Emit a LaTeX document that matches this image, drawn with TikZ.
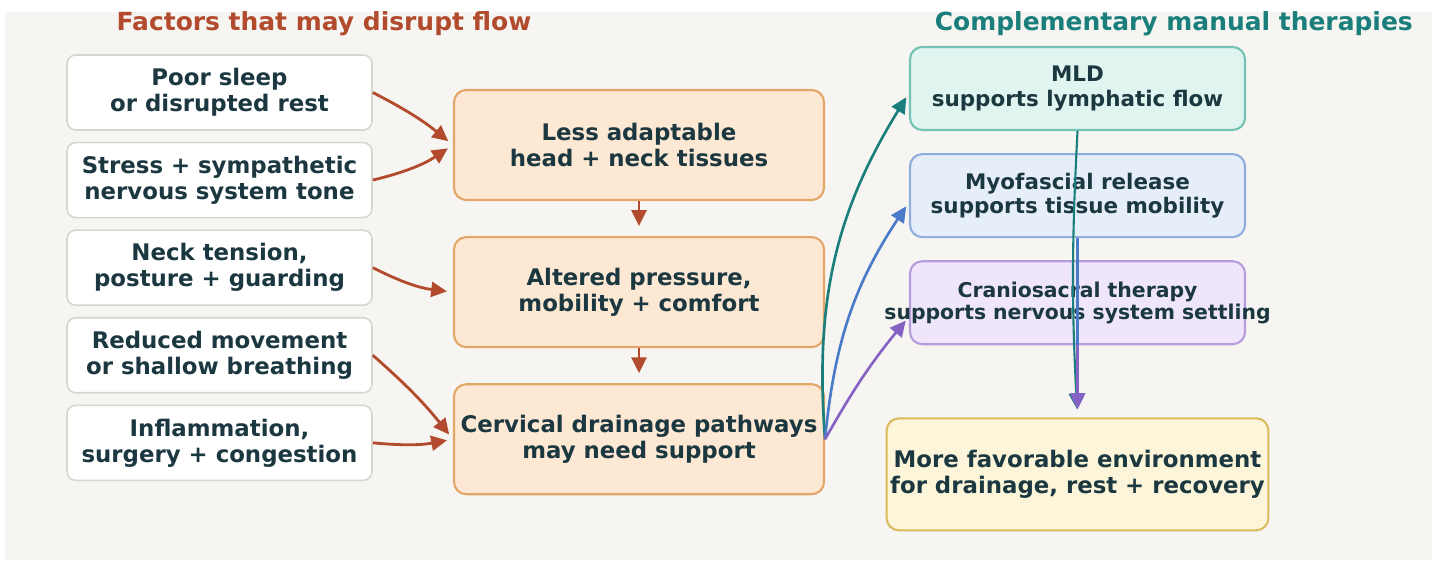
\documentclass[tikz,border=0pt]{standalone}
\usepackage{fontspec}
\setmainfont{DejaVu Sans}
\usetikzlibrary{arrows.meta, positioning}

\begin{document}
\begin{tikzpicture}[
    >={Triangle[length=9pt, width=8.5pt]},
    font=\fontsize{13}{14.8}\selectfont\bfseries,
]
\definecolor{pageBg}{HTML}{F6F5F1}
\definecolor{inkDark}{HTML}{1B3740}
\definecolor{rustAccent}{HTML}{B24B2E}
\definecolor{tealAccent}{HTML}{1A7F7C}
\definecolor{factorEdge}{HTML}{D6D6D1}
\definecolor{stageFill}{HTML}{FDE8D4}
\definecolor{stageEdge}{HTML}{E2A669}
\definecolor{mldFill}{HTML}{E0F4F0}
\definecolor{mldEdge}{HTML}{74C2B4}
\definecolor{myoFill}{HTML}{E6EEFA}
\definecolor{myoEdge}{HTML}{8FAEDD}
\definecolor{myoAccent}{HTML}{4A7BC8}
\definecolor{cranioFill}{HTML}{EFE6FB}
\definecolor{cranioEdge}{HTML}{B69CDF}
\definecolor{cranioAccent}{HTML}{8562C4}
\definecolor{goalFill}{HTML}{FDF5D9}
\definecolor{goalEdge}{HTML}{D9BB5E}

\tikzset{
    factor/.style={
        rectangle, rounded corners=5pt, draw=factorEdge, line width=0.9pt,
        fill=white, minimum width=6.1cm, minimum height=1.5cm,
        inner sep=2pt, align=center, text=inkDark,
    },
    stage/.style={
        rectangle, rounded corners=7pt, draw=stageEdge, line width=1.2pt,
        fill=stageFill, minimum width=7.4cm, minimum height=2.2cm,
        inner sep=2pt, align=center, text=inkDark,
    },
    therapy/.style={
        rectangle, rounded corners=7pt, line width=1.2pt,
        minimum width=6.7cm, minimum height=1.66cm,
        inner sep=2pt, align=center, text=inkDark,
        font=\fontsize{12.2}{13.7}\selectfont\bfseries,
    },
    goal/.style={
        rectangle, rounded corners=7pt, draw=goalEdge, line width=1.2pt,
        fill=goalFill, minimum width=7.58cm, minimum height=2.24cm,
        inner sep=2pt, align=center, text=inkDark,
    },
    feed/.style={->, draw=rustAccent, line width=1.6pt, shorten >=0.12cm},
    fan/.style={->, line width=1.5pt, shorten >=0.1cm},
    merge/.style={->, line width=1.2pt, shorten >=0.16cm},
    grouptitle/.style={font=\fontsize{14.2}{16}\selectfont\bfseries},
}

\useasboundingbox (0,0) rectangle (28.76,-11.26);
\fill[pageBg] (0.1,-0.24) rectangle (28.64,-11.2);

\node[grouptitle, text=rustAccent] (factorTitle) at (6.48,-0.48) {Factors that may disrupt flow};
\node[grouptitle, text=tealAccent, anchor=east] (therapyTitle) at (28.38,-0.48)
    {Complementary manual therapies};

% disrupting factors
\node[factor] (sleep) at (4.39,-1.85) {Poor sleep\\or disrupted rest};
\node[factor, below=0.22cm of sleep] (stress) {Stress + sympathetic\\nervous system tone};
\node[factor, below=0.22cm of stress] (tension) {Neck tension,\\posture + guarding};
\node[factor, below=0.22cm of tension] (movement) {Reduced movement\\or shallow breathing};
\node[factor, below=0.22cm of movement] (inflammation) {Inflammation,\\surgery + congestion};

% central chain
\node[stage] (tissues) at (12.78,-2.9) {Less adaptable\\head + neck tissues};
\node[stage, below=0.70cm of tissues] (pressure) {Altered pressure,\\mobility + comfort};
\node[stage, below=0.70cm of pressure] (drainage) {Cervical drainage pathways\\may need support};

% therapies
\node[therapy, fill=mldFill, draw=mldEdge] (mld) at (21.55,-1.77) {MLD\\supports lymphatic flow};
\node[therapy, fill=myoFill, draw=myoEdge, below=0.44cm of mld] (myofascial)
    {Myofascial release\\supports tissue mobility};
\node[therapy, fill=cranioFill, draw=cranioEdge, below=0.44cm of myofascial,
    font=\fontsize{11.6}{12.5}\selectfont\bfseries] (cranio)
    {Craniosacral therapy\\\makebox[6cm]{supports nervous system settling}};
\node[goal, below=1.44cm of cranio] (environment) {More favorable environment\\for drainage, rest + recovery};

\draw[feed] (sleep.east) to[bend left=6] (tissues.west);
\draw[feed] (stress.east) to[bend right=10] (tissues.west);
\draw[feed] (tension.east) to[bend right=10] (pressure.west);
\draw[feed] (movement.east) to[bend left=5] (drainage.west);
\draw[feed] (inflammation.east) to[bend right=8] (drainage.west);

\draw[feed, shorten >=0.2cm] (tissues) -- (pressure);
\draw[feed, shorten >=0.2cm] (pressure) -- (drainage);

\draw[fan, tealAccent] (drainage.east) to[bend left=18] ([yshift=-0.09cm]mld.west);
\draw[fan, myoAccent] (drainage.east) to[bend left=14] ([yshift=-0.13cm]myofascial.west);
\draw[fan, cranioAccent] (drainage.east) to[bend left=5] ([yshift=-0.28cm]cranio.west);

\draw[merge, tealAccent] (mld.south) to[bend right=3] (environment.north);
\draw[merge, myoAccent] (myofascial.south) -- (environment.north);
\draw[merge, cranioAccent] (cranio.south) -- (environment.north);

\end{tikzpicture}
\end{document}
